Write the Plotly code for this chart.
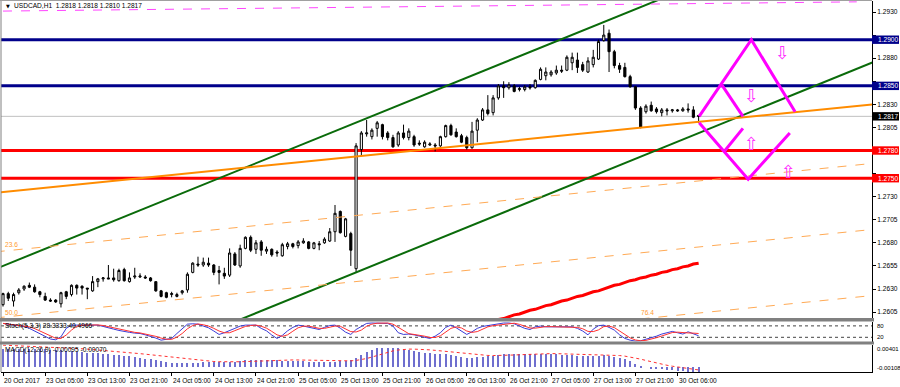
import plotly.graph_objects as go

# ---------------- data ----------------
bars = list(range(133))
opens = [1.2613,1.2625,1.2617,1.2626,1.2630,1.2634,1.2632,1.2627,1.2622,1.2618,
         1.2618,1.2614,1.2627,1.2624,1.2634,1.2633,1.2631,1.2628,1.2638,1.2641,
         1.2642,1.2642,1.2639,1.2651,1.2638,1.2643,1.2643,1.2643,1.2642,1.2638,
         1.2628,1.2626,1.2624,1.2622,1.2626,1.2629,1.2648,1.2657,1.2656,1.2658,
         1.2656,1.2650,1.2647,1.2645,1.2668,1.2655,1.2674,1.2686,1.2673,1.2681,
         1.2671,1.2673,1.2670,1.2666,1.2676,1.2679,1.2677,1.2680,1.2681,1.2674,
         1.2679,1.2680,1.2682,1.2692,1.2714,1.2687,1.2690,1.2652,1.2781,1.2798,
         1.2795,1.2804,1.2808,1.2799,1.2794,1.2786,1.2799,1.2794,1.2795,1.2788,
         1.2784,1.2786,1.2786,1.2785,1.2795,1.2807,1.2800,1.2796,1.2794,1.2783,
         1.2802,1.2813,1.2824,1.2821,1.2837,1.2850,1.2848,1.2850,1.2846,1.2846,
         1.2849,1.2848,1.2857,1.2861,1.2862,1.2864,1.2867,1.2867,1.2875,1.2878,
         1.2873,1.2865,1.2873,1.2879,1.2899,1.2907,1.2887,1.2872,1.2870,1.2860,
         1.2849,1.2826,1.2822,1.2829,1.2825,1.2821,1.2824,1.2823,1.2824,1.2823,
         1.2825,1.2824,1.2818]
highs = [1.2626,1.2627,1.2626,1.2631,1.2634,1.2637,1.2635,1.2628,1.2626,1.2620,
         1.2619,1.2627,1.2628,1.2635,1.2635,1.2634,1.2631,1.2644,1.2642,1.2643,
         1.2656,1.2652,1.2652,1.2653,1.2648,1.2653,1.2647,1.2645,1.2643,1.2638,
         1.2629,1.2627,1.2627,1.2626,1.2629,1.2648,1.2659,1.2665,1.2664,1.2664,
         1.2657,1.2655,1.2653,1.2674,1.2670,1.2678,1.2687,1.2688,1.2683,1.2683,
         1.2676,1.2674,1.2672,1.2680,1.2681,1.2680,1.2683,1.2685,1.2682,1.2681,
         1.2682,1.2686,1.2696,1.2721,1.2715,1.2707,1.2692,1.2788,1.2801,1.2813,
         1.2804,1.2812,1.2809,1.2801,1.2797,1.2801,1.2808,1.2804,1.2797,1.2791,
         1.2791,1.2789,1.2788,1.2796,1.2808,1.2809,1.2804,1.2798,1.2796,1.2811,
         1.2815,1.2826,1.2840,1.2840,1.2852,1.2855,1.2854,1.2852,1.2849,1.2851,
         1.2852,1.2857,1.2870,1.2870,1.2867,1.2872,1.2872,1.2883,1.2886,1.2886,
         1.2876,1.2881,1.2889,1.2900,1.2916,1.2911,1.2889,1.2875,1.2875,1.2862,
         1.2850,1.2828,1.2830,1.2833,1.2827,1.2826,1.2826,1.2825,1.2825,1.2827,
         1.2831,1.2828,1.2818]
lows = [1.2611,1.2617,1.2611,1.2624,1.2628,1.2631,1.2626,1.2621,1.2617,1.2616,
        1.2615,1.2610,1.2619,1.2622,1.2624,1.2624,1.2619,1.2627,1.2632,1.2638,
        1.2641,1.2638,1.2638,1.2638,1.2637,1.2641,1.2642,1.2641,1.2638,1.2627,
        1.2621,1.2620,1.2621,1.2621,1.2624,1.2626,1.2647,1.2654,1.2654,1.2654,
        1.2645,1.2635,1.2641,1.2643,1.2655,1.2653,1.2673,1.2670,1.2668,1.2666,
        1.2668,1.2665,1.2665,1.2665,1.2673,1.2674,1.2674,1.2679,1.2673,1.2673,
        1.2672,1.2679,1.2681,1.2681,1.2690,1.2686,1.2655,1.2648,1.2775,1.2795,
        1.2792,1.2795,1.2792,1.2791,1.2783,1.2784,1.2792,1.2791,1.2784,1.2785,
        1.2783,1.2785,1.2779,1.2784,1.2794,1.2796,1.2794,1.2788,1.2781,1.2782,
        1.2789,1.2812,1.2818,1.2818,1.2835,1.2837,1.2846,1.2843,1.2844,1.2844,
        1.2846,1.2847,1.2856,1.2856,1.2860,1.2862,1.2864,1.2866,1.2867,1.2864,
        1.2865,1.2864,1.2870,1.2878,1.2898,1.2865,1.2869,1.2864,1.2859,1.2848,
        1.2824,1.2804,1.2820,1.2822,1.2820,1.2817,1.2818,1.2821,1.2822,1.2822,
        1.2821,1.2815,1.2810]
closes = [1.2625,1.2620,1.2624,1.2629,1.2633,1.2632,1.2627,1.2624,1.2618,1.2617,
          1.2616,1.2626,1.2622,1.2634,1.2631,1.2631,1.2630,1.2638,1.2641,1.2642,
          1.2641,1.2640,1.2650,1.2639,1.2642,1.2644,1.2644,1.2642,1.2639,1.2628,
          1.2622,1.2621,1.2625,1.2624,1.2628,1.2646,1.2658,1.2656,1.2659,1.2656,
          1.2648,1.2648,1.2644,1.2669,1.2656,1.2674,1.2686,1.2672,1.2680,1.2672,
          1.2673,1.2667,1.2669,1.2678,1.2679,1.2676,1.2681,1.2682,1.2674,1.2680,
          1.2678,1.2684,1.2692,1.2712,1.2691,1.2706,1.2672,1.2785,1.2799,1.2799,
          1.2802,1.2810,1.2795,1.2794,1.2784,1.2799,1.2794,1.2801,1.2786,1.2787,
          1.2789,1.2787,1.2785,1.2795,1.2807,1.2797,1.2795,1.2789,1.2783,1.2801,
          1.2813,1.2824,1.2820,1.2837,1.2850,1.2848,1.2851,1.2844,1.2847,1.2849,
          1.2848,1.2856,1.2868,1.2865,1.2865,1.2867,1.2866,1.2881,1.2881,1.2870,
          1.2867,1.2877,1.2881,1.2898,1.2905,1.2887,1.2872,1.2868,1.2860,1.2849,
          1.2826,1.2805,1.2828,1.2823,1.2822,1.2824,1.2823,1.2824,1.2823,1.2825,
          1.2824,1.2816,1.2817]

ma_start = 90
ma_values = [1.2590,1.2591,1.2593,1.2595,1.2597,1.2598,1.2600,1.2602,1.2603,1.2605,
             1.2607,1.2608,1.2610,1.2612,1.2613,1.2615,1.2617,1.2618,1.2620,1.2622,
             1.2623,1.2625,1.2627,1.2628,1.2630,1.2632,1.2634,1.2635,1.2637,1.2639,
             1.2640,1.2642,1.2643,1.2645,1.2646,1.2648,1.2649,1.2651,1.2652,1.2654,
             1.2655,1.2657,1.2658]

stoch_k = [93,88,84,82,77,67,54,40,26,11,7,23,67,84,84,84,86,84,84,77,
           68,63,56,49,46,42,40,33,26,16,5,9,14,40,67,89,91,89,79,70,
           53,35,44,54,67,79,84,84,84,67,54,32,14,30,54,72,84,79,74,67,
           61,72,82,84,68,47,35,61,79,93,95,95,96,93,79,44,35,37,33,26,
           18,14,26,44,72,84,70,54,35,49,67,77,81,84,88,95,95,91,79,67,
           61,75,79,75,75,75,75,75,75,67,53,33,63,81,84,72,58,33,14,5,
           0,2,9,19,26,37,46,51,44,37,49,40,28]
stoch_d = [93,90,88,85,81,75,66,54,40,26,15,14,32,58,78,84,85,85,85,82,
           76,69,62,56,50,46,43,38,33,25,16,10,9,21,40,65,82,90,86,79,
           67,53,44,44,55,67,77,82,84,78,68,51,33,25,33,52,70,78,79,73,
           67,67,72,79,78,66,50,48,58,78,89,94,95,95,89,72,53,39,35,32,
           26,19,19,28,47,67,75,69,53,46,50,64,75,81,84,89,93,94,88,79,
           69,68,72,76,76,75,75,75,75,72,65,51,50,59,76,79,71,54,35,17,
           6,2,4,10,18,27,36,45,47,44,43,42,40]

macd_main = [0.00381,0.00380,0.00378,0.00375,0.00372,0.00370,0.00367,0.00365,0.00362,0.00360,
             0.00352,0.00345,0.00335,0.00325,0.00315,0.00305,0.00296,0.00288,0.00279,0.00270,
             0.00260,0.00250,0.00240,0.00230,0.00220,0.00205,0.00190,0.00175,0.00160,0.00140,
             0.00120,0.00105,0.00090,0.00080,0.00075,0.00078,0.00085,0.00092,0.00095,0.00098,
             0.00100,0.00102,0.00105,0.00108,0.00112,0.00125,0.00135,0.00140,0.00143,0.00143,
             0.00143,0.00140,0.00135,0.00132,0.00130,0.00130,0.00128,0.00125,0.00110,0.00105,
             0.00102,0.00100,0.00105,0.00110,0.00120,0.00128,0.00135,0.00190,0.00250,0.00310,
             0.00355,0.00385,0.00398,0.00401,0.00398,0.00390,0.00375,0.00355,0.00335,0.00315,
             0.00295,0.00285,0.00275,0.00268,0.00260,0.00245,0.00225,0.00205,0.00195,0.00195,
             0.00200,0.00210,0.00220,0.00235,0.00250,0.00262,0.00268,0.00270,0.00265,0.00260,
             0.00258,0.00262,0.00268,0.00270,0.00268,0.00262,0.00255,0.00245,0.00240,0.00235,
             0.00228,0.00225,0.00228,0.00232,0.00240,0.00235,0.00215,0.00190,0.00160,0.00120,
             0.00070,0.00030,0.00000,-0.00020,-0.00035,-0.00045,-0.00055,-0.00065,-0.00075,-0.00085,
             -0.00095,-0.00108,-0.00095]
macd_signal = [0.00440,0.00436,0.00432,0.00428,0.00424,0.00420,0.00415,0.00410,0.00405,0.00400,
               0.00395,0.00390,0.00384,0.00378,0.00372,0.00365,0.00358,0.00350,0.00342,0.00334,
               0.00325,0.00316,0.00306,0.00296,0.00286,0.00276,0.00265,0.00254,0.00242,0.00230,
               0.00217,0.00203,0.00190,0.00176,0.00162,0.00150,0.00138,0.00127,0.00118,0.00110,
               0.00104,0.00099,0.00096,0.00095,0.00096,0.00098,0.00102,0.00107,0.00112,0.00118,
               0.00123,0.00128,0.00132,0.00135,0.00136,0.00136,0.00135,0.00133,0.00130,0.00127,
               0.00124,0.00121,0.00118,0.00116,0.00115,0.00115,0.00117,0.00126,0.00142,0.00165,
               0.00195,0.00228,0.00262,0.00295,0.00322,0.00340,0.00352,0.00358,0.00358,0.00356,
               0.00350,0.00343,0.00333,0.00322,0.00310,0.00298,0.00284,0.00270,0.00258,0.00247,
               0.00238,0.00232,0.00228,0.00226,0.00226,0.00228,0.00232,0.00237,0.00242,0.00248,
               0.00253,0.00258,0.00262,0.00265,0.00266,0.00265,0.00263,0.00260,0.00257,0.00254,
               0.00250,0.00247,0.00244,0.00241,0.00239,0.00237,0.00233,0.00226,0.00214,0.00198,
               0.00177,0.00152,0.00125,0.00098,0.00072,0.00048,0.00026,0.00007,-0.00010,-0.00025,
               -0.00040,-0.00056,-0.00070]

# horizontal levels
blue_levels = [1.2900, 1.2850]
red_levels = [1.2780, 1.2750]
bid_price = 1.2817
price_ticks = [1.2605, 1.2630, 1.2655, 1.2680, 1.2705, 1.2730, 1.2755, 1.2780,
               1.2805, 1.2830, 1.2855, 1.2880, 1.2905, 1.2930]
hidden_ticks = [1.2755, 1.2780, 1.2855, 1.2905]   # covered by the level boxes

# trend / channel anchors (bar index, price)
green_upper = ([0, 120], [1.2655, 1.2933])
green_lower = ([67, 120], [1.2648, 1.2771])
fib_base = ([0, 165], [1.2735, 1.2830])
fib_depth = 0.0271
fib_levels = [0.0, 23.6, 50.0, 76.4]
pink_dash = ([0, 162], [1.2931, 1.2941])

# projection zig-zags (bar index, price)
proj_up = ([132.1, 142.0, 150.3], [1.2817, 1.2900, 1.2822])
proj_down = ([132.1, 141.4, 149.3], [1.2810, 1.2749, 1.2799])
proj_small_up = ([136.4, 140.4], [1.2851, 1.2817])
proj_small_down = ([140.4, 137.0], [1.2804, 1.2780])
arrows_down = ([148.0, 142.1], [1.2886, 1.2840])
arrows_up = ([142.1, 149.0], [1.2788, 1.2757])

label_bars = list(range(0, 129, 8))
label_texts = ["20 Oct 2017", "23 Oct 05:00", "23 Oct 13:00", "23 Oct 21:00",
               "24 Oct 05:00", "24 Oct 13:00", "24 Oct 21:00", "25 Oct 05:00",
               "25 Oct 13:00", "25 Oct 21:00", "26 Oct 05:00", "26 Oct 13:00",
               "26 Oct 21:00", "27 Oct 05:00", "27 Oct 13:00", "27 Oct 21:00",
               "30 Oct 06:00"]

# ---------------- geometry ----------------
W, H = 900, 387
ML, MR, MT, MB = 1, 28, 1, 15
PW = W - ML - MR
PH = H - MT - MB


def px(x):
    return (x - ML) / PW


def py(y):
    return (H - MB - y) / PH


BAR_PX = 5.27
X0 = -2 / BAR_PX
X1 = X0 + PW / BAR_PX
PRICE_PER_PX = 0.0001083
Y_TOP = 1.2943 - PRICE_PER_PX * 1
Y_BOT = 1.2943 - PRICE_PER_PX * 318

FONT = "Liberation Sans, Arial, sans-serif"
FS = 6.6


def extend(anchor, xa, xb):
    (b0, b1), (p0, p1) = anchor
    s = (p1 - p0) / (b1 - b0)
    return [xa, xb], [p0 + s * (xa - b0), p0 + s * (xb - b0)]


fig = go.Figure()

# trend lines (behind candles)
gx, gy = extend(green_upper, X0 - 1, 130)
fig.add_trace(go.Scatter(x=gx, y=gy, mode="lines", line=dict(color="#0a6b0a", width=2), yaxis="y"))
gx, gy = extend(green_lower, 20, X1 + 1)
fig.add_trace(go.Scatter(x=gx, y=gy, mode="lines", line=dict(color="#0a6b0a", width=2), yaxis="y"))

bx, bp = extend(fib_base, X0 - 1, X1 + 1)
for lv in fib_levels:
    yy = [p - lv / 100.0 * fib_depth for p in bp]
    if lv == 0.0:
        fig.add_trace(go.Scatter(x=bx, y=yy, mode="lines", line=dict(color="#ff8c00", width=2), yaxis="y"))
    else:
        fig.add_trace(go.Scatter(x=bx, y=yy, mode="lines",
                                 line=dict(color="#ffaa55", width=1, dash="dash"), yaxis="y"))

fig.add_trace(go.Scatter(x=pink_dash[0], y=pink_dash[1], mode="lines",
                         line=dict(color="#ff44ff", width=1, dash="dash"), yaxis="y"))

fig.add_trace(go.Scatter(x=list(range(ma_start, ma_start + len(ma_values))), y=ma_values,
                         mode="lines", line=dict(color="#ff0000", width=3), yaxis="y"))

# candles
fig.add_trace(go.Candlestick(
    x=bars, open=opens, high=highs, low=lows, close=closes,
    increasing=dict(line=dict(color="black", width=1), fillcolor="white"),
    decreasing=dict(line=dict(color="black", width=1), fillcolor="black"),
    whiskerwidth=0, xaxis="x", yaxis="y", hoverinfo="skip"))

# projections
for seg in (proj_up, proj_down, proj_small_up, proj_small_down):
    fig.add_trace(go.Scatter(x=seg[0], y=seg[1], mode="lines",
                             line=dict(color="#ff00ff", width=3), yaxis="y"))

# stochastic
fig.add_trace(go.Scatter(x=bars, y=stoch_k, mode="lines", line=dict(color="#3b3bd6", width=1), yaxis="y2"))
fig.add_trace(go.Scatter(x=bars, y=stoch_d, mode="lines", line=dict(color="#ff3030", width=1), yaxis="y2"))

# macd
fig.add_trace(go.Bar(x=bars, y=macd_main, width=0.38, marker=dict(color="#6f6fcf", line=dict(width=0)), yaxis="y3"))
fig.add_trace(go.Scatter(x=bars, y=macd_signal, mode="lines",
                         line=dict(color="#ff3030", width=1, dash="dot"), yaxis="y3"))

shapes = []
for lv in blue_levels:
    shapes.append(dict(type="line", xref="x domain", x0=0, x1=1, yref="y", y0=lv, y1=lv,
                       line=dict(color="#00008b", width=3), layer="below"))
for lv in red_levels:
    shapes.append(dict(type="line", xref="x domain", x0=0, x1=1, yref="y", y0=lv, y1=lv,
                       line=dict(color="#ff0000", width=3), layer="below"))
shapes.append(dict(type="line", xref="x domain", x0=0, x1=1, yref="y", y0=bid_price, y1=bid_price,
                   line=dict(color="#c0c0c0", width=1), layer="below"))
for lv in (80, 20):
    shapes.append(dict(type="line", xref="x domain", x0=0, x1=1, yref="y2", y0=lv, y1=lv,
                       line=dict(color="#444444", width=1, dash="dot"), layer="below"))
# panel separators
for a, b in ((318, 321.5), (341.5, 344.5)):
    shapes.append(dict(type="rect", xref="paper", yref="paper", x0=px(0), x1=px(874),
                       y0=py(b), y1=py(a), fillcolor="#808080", line=dict(width=0), layer="above"))
# left / top border
shapes.append(dict(type="line", xref="paper", yref="paper", x0=0, x1=0, y0=0, y1=py(0),
                   line=dict(color="#808080", width=1)))
shapes.append(dict(type="line", xref="paper", yref="paper", x0=px(0), x1=1, y0=py(0.5), y1=py(0.5),
                   line=dict(color="#a0a0a0", width=1)))

annotations = []
# price boxes
box_h = PRICE_PER_PX * 4.2
for lv, col in ((1.2900, "#00008b"), (1.2850, "#00008b"), (bid_price, "#000000"),
                (1.2780, "#ff0000"), (1.2750, "#ff0000")):
    shapes.append(dict(type="rect", xref="paper", yref="y", x0=1.0, x1=px(899),
                       y0=lv - box_h, y1=lv + box_h, fillcolor=col, line=dict(width=0), layer="above"))
    annotations.append(dict(x=px(876), xref="paper", y=lv, yref="y", text=f"{lv:.4f}",
                            xanchor="left", yanchor="middle", showarrow=False,
                            font=dict(family=FONT, size=FS, color="white")))

# x labels
for b, t in zip(label_bars, label_texts):
    annotations.append(dict(x=b, xref="x", y=py(380), yref="paper", text=t, xanchor="left",
                            yanchor="middle", xshift=-1, showarrow=False,
                            font=dict(family=FONT, size=FS, color="black")))

# title & indicator labels
annotations.append(dict(x=px(4), xref="paper", y=py(5.5), yref="paper", text="▼", xanchor="left",
                        yanchor="middle", showarrow=False, font=dict(family="DejaVu Sans", size=5, color="black")))
annotations.append(dict(x=px(12), xref="paper", y=py(5.5), yref="paper",
                        text="USDCAD,H1  1.2818 1.2818 1.2810 1.2817", xanchor="left",
                        yanchor="middle", showarrow=False, font=dict(family=FONT, size=FS, color="black")))
annotations.append(dict(x=px(3), xref="paper", y=py(326), yref="paper",
                        text="Stoch(5,3,3) 28.3333 40.4966", xanchor="left",
                        yanchor="middle", showarrow=False, font=dict(family=FONT, size=FS, color="black")))
annotations.append(dict(x=px(3), xref="paper", y=py(349.5), yref="paper",
                        text="MACD(12,26,9) -0.00095 -0.00070", xanchor="left",
                        yanchor="middle", showarrow=False, font=dict(family=FONT, size=FS, color="black")))
# fib labels
for txt, xx, yy in (("23.6", 3, 245), ("50.0", 3, 312), ("76.4", 639, 312)):
    annotations.append(dict(x=px(xx), xref="paper", y=py(yy), yref="paper", text=txt, xanchor="left",
                            yanchor="middle", showarrow=False, font=dict(family=FONT, size=FS, color="#ff9a30")))
# right labels of sub windows
for txt, yy in (("80", 325.5), ("20", 337), ("0.00401", 348.5), ("-0.00108", 368)):
    annotations.append(dict(x=px(875), xref="paper", y=py(yy), yref="paper", text=txt, xanchor="left",
                            yanchor="middle", showarrow=False, font=dict(family=FONT, size=6, color="black")))
# arrows
for xs, ys, ch in ((arrows_down[0], arrows_down[1], "⇩"), (arrows_up[0], arrows_up[1], "⇧")):
    for a, b in zip(xs, ys):
        annotations.append(dict(x=a, xref="x", y=b, yref="y", text=ch, showarrow=False,
                                xanchor="center", yanchor="middle",
                                font=dict(family="DejaVu Sans", size=18, color="#ff33ff")))

fig.update_layout(
    width=W, height=H, margin=dict(l=ML, r=MR, t=MT, b=MB, pad=0),
    paper_bgcolor="white", plot_bgcolor="white", showlegend=False,
    boxgap=0.42, bargap=0,
    xaxis=dict(range=[X0, X1], anchor="y3", showgrid=False, zeroline=False, showline=True,
               linecolor="black", linewidth=1, ticks="outside", ticklen=3, tickcolor="black",
               tickvals=label_bars, showticklabels=False, rangeslider=dict(visible=False), fixedrange=True),
    yaxis=dict(domain=[py(318), 1], range=[Y_BOT, Y_TOP], side="right", anchor="x",
               showgrid=False, zeroline=False, showline=True, linecolor="black", linewidth=1,
               ticks="outside", ticklen=3, tickcolor="black", tickvals=price_ticks,
               ticktext=["" if v in hidden_ticks else f"{v:.4f}" for v in price_ticks],
               tickfont=dict(family=FONT, size=FS, color="black")),
    yaxis2=dict(domain=[py(341.5), py(321.5)], range=[-2, 103], side="right", anchor="x",
                showgrid=False, zeroline=False, showline=True, linecolor="black",
                showticklabels=False, ticks=""),
    yaxis3=dict(domain=[0, py(344.5)], range=[-0.00112, 0.00453], side="right", anchor="x",
                showgrid=False, zeroline=False, showline=True, linecolor="black",
                showticklabels=False, ticks=""),
    shapes=shapes, annotations=annotations,
)

fig.write_html("out.html")
